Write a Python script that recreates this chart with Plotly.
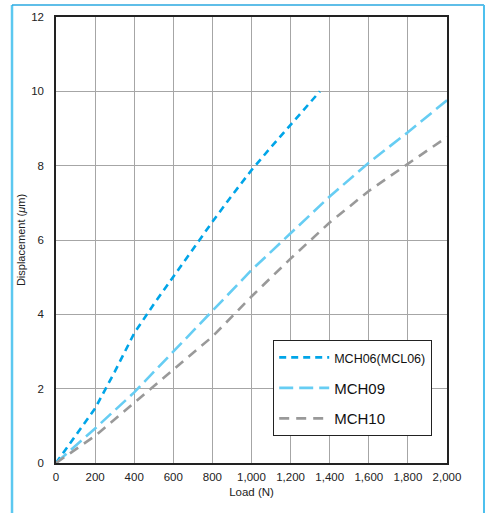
import plotly.graph_objects as go

# Data
mch06_load = [0, 100, 200, 300, 400, 500, 600, 700, 800, 900, 1000, 1100, 1200, 1300, 1350]
mch06_disp = [0, 0.72, 1.47, 2.45, 3.49, 4.27, 5.01, 5.77, 6.49, 7.2, 7.88, 8.5, 9.09, 9.7, 10.0]

mch09_load = [0, 200, 400, 600, 800, 1000, 1200, 1400, 1600, 1800, 2000]
mch09_disp = [0, 0.93, 1.9, 3.0, 4.1, 5.19, 6.18, 7.17, 8.08, 8.9, 9.76]

mch10_load = [0, 200, 400, 600, 800, 1000, 1200, 1400, 1600, 1800, 2000]
mch10_disp = [0, 0.73, 1.62, 2.5, 3.4, 4.48, 5.5, 6.47, 7.32, 8.05, 8.77]

x_ticks = [0, 200, 400, 600, 800, 1000, 1200, 1400, 1600, 1800, 2000]
x_tick_text = ["0", "200", "400", "600", "800", "1,000", "1,200", "1,400", "1,600", "1,800", "2,000"]
y_ticks = [0, 2, 4, 6, 8, 10, 12]

series_names = ["<span style='font-size:12.5px'>MCH06(MCL06)</span>", "MCH09", "MCH10"]

fig = go.Figure()
fig.add_trace(go.Scatter(x=mch06_load, y=mch06_disp, mode="lines", name=series_names[0],
                         legendgroup="a",
                         line=dict(color="#00a5e8", width=2.6, dash="7px,5px")))
fig.add_trace(go.Scatter(x=mch09_load, y=mch09_disp, mode="lines", name=series_names[1],
                         legendgroup="b",
                         line=dict(color="#66cdf3", width=2.6, dash="14px,6px")))
fig.add_trace(go.Scatter(x=mch10_load, y=mch10_disp, mode="lines", name=series_names[2],
                         legendgroup="c",
                         line=dict(color="#999999", width=2.6, dash="10px,7px")))

fig.update_layout(
    width=490, height=513,
    margin=dict(l=56, r=43, t=17, b=50, autoexpand=False),
    paper_bgcolor="white", plot_bgcolor="white",
    font=dict(family="Liberation Sans, Arial, sans-serif", color="#222222", size=11.5),
    showlegend=True,
    legend=dict(
        x=0.555, y=0.276, xanchor="left", yanchor="top",
        bgcolor="white", bordercolor="#222222", borderwidth=1.2,
        font=dict(size=15, color="#111111"),
        traceorder="grouped", tracegroupgap=8,
        itemwidth=50,
    ),
    xaxis=dict(
        range=[0, 2000], tickvals=x_ticks, ticktext=x_tick_text,
        showgrid=True, gridcolor="#a6a6a6", gridwidth=1.3,
        showline=True, linecolor="#222222", linewidth=1.5, mirror=True,
        ticks="", zeroline=False, ticklabelstandoff=2,
        title=dict(text="Load (N)", font=dict(size=11.5), standoff=6),
        tickfont=dict(size=11.5),
    ),
    yaxis=dict(
        range=[0, 12], tickvals=y_ticks,
        showgrid=True, gridcolor="#a6a6a6", gridwidth=1.3,
        showline=True, linecolor="#222222", linewidth=1.5, mirror=True,
        ticks="", zeroline=False, ticklabelstandoff=8,
        title=dict(text="Displacement (<i>μ</i>m)", font=dict(size=11), standoff=3),
        tickfont=dict(size=11.5),
    ),
    shapes=[
        dict(type="line", xref="paper", yref="paper", x0=-0.1125, x1=-0.1125, y0=1.027, y1=-0.2,
             line=dict(color="#5cc8f0", width=2.5)),
        dict(type="line", xref="paper", yref="paper", x0=-0.1125, x1=1.0946, y0=1.027, y1=1.027,
             line=dict(color="#2aa8e0", width=1.5)),
        dict(type="line", xref="paper", yref="paper", x0=1.0946, x1=1.0946, y0=1.027, y1=-0.2,
             line=dict(color="#4cc0ee", width=2)),
    ],
)

fig.write_html(
    "out.html",
    config={"displayModeBar": False},
    post_script="document.body.style.margin='0';document.body.style.overflow='hidden';",
)
